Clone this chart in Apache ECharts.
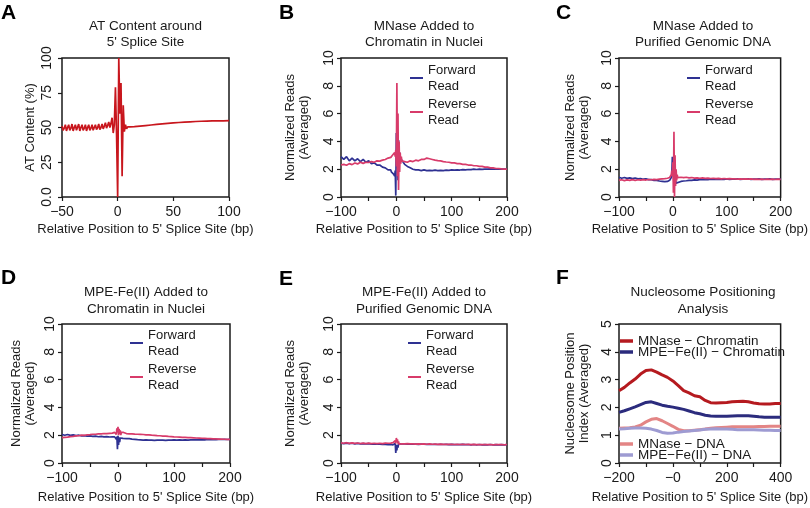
<!DOCTYPE html>
<html><head><meta charset="utf-8">
<script src="https://cdn.jsdelivr.net/npm/echarts@6/dist/echarts.min.js"></script>
<style>html,body{margin:0;padding:0;background:#fff}#c{width:810px;height:508px}</style>
</head><body><div id="c"></div>
<script>
// ---------- DATA ----------
// Panel A: AT content around 5' splice site
const posA = [-50,-49,-48,-47,-46,-45,-44,-43,-42,-41,-40,-39,-38,-37,-36,-35,-34,-33,-32,-31,
  -30,-29,-28,-27,-26,-25,-24,-23,-22,-21,-20,-19,-18,-17,-16,-15,-14,-13,-12,-11,
  -10,-9,-8,-7,-6,-5,-4,-3,-2,-1,0,1,2,3,4,5,6,7,8,9,10,11,12,
  15,20,25,30,35,40,45,50,55,60,65,70,75,80,85,90,95,100];
const atContent = [51,48,49.5,52,47.5,50,52,48,49.5,52.5,
  47.5,50,52,48,49,52.5,47.5,50,52,48,
  49.5,52,47.5,50,52,48,49.5,52,48,50,
  52,48.5,50,52.5,48.5,50,52.5,49,51,53.5,
  49.5,51.5,54,50,53,57,46,52,79,45,
  0,100,60,82,15,66,47,52,49,50.5,
  50,50.5,50.3,
  50.6,51,51.4,51.8,52.2,52.6,53,53.3,53.6,53.9,54.1,54.3,54.5,54.6,54.7,54.8,54.8,54.9];

// Panels B-E: shared positions (bp)
const posReads = [-100,-95,-90,-85,-80,-75,-70,-65,-60,-55,-50,-45,-40,-35,-30,-25,-20,-15,
  -10,-9,-8,-7,-6,-5,-4,-3,-2,-1,0,1,2,3,4,5,6,7,8,9,10,
  15,20,25,30,35,40,45,50,55,60,65,70,75,80,85,90,95,100,105,110,115,120,125,130,135,140,
  145,150,155,160,165,170,175,180,185,190,195,200];

// B: MNase - chromatin in nuclei
const fwdB = [2.9,2.7,2.9,2.6,2.8,2.6,2.75,2.55,2.7,2.5,2.6,2.4,2.45,2.3,2.3,2.15,2.1,1.95,
  1.95,1.8,1.9,1.75,1.8,1.65,1.7,1.5,1.9,0.1,4.6,2.5,3.9,1.2,4.1,2.6,3.2,2.9,2.8,2.7,2.6,
  2.35,2.2,2.1,2.0,1.95,1.95,1.9,1.95,1.9,1.92,1.9,1.93,1.9,1.92,1.9,1.93,1.92,1.95,1.93,1.95,
  1.94,1.97,1.95,1.98,1.97,2.0,1.98,2.0,1.99,2.01,2.0,2.02,2.0,2.02,2.0,2.01,2.0,2.0];
const revB = [2.3,2.35,2.28,2.4,2.33,2.45,2.38,2.5,2.42,2.5,2.48,2.55,2.5,2.6,2.58,2.65,2.7,2.8,
  2.85,2.95,2.9,3.0,3.05,3.1,3.0,3.2,2.9,3.4,2.2,8.2,1.5,6.0,0.5,4.0,1.8,3.2,2.4,2.9,2.6,
  2.55,2.5,2.6,2.55,2.65,2.6,2.7,2.7,2.8,2.75,2.7,2.65,2.62,2.6,2.55,2.52,2.5,2.45,2.45,2.4,
  2.4,2.35,2.35,2.3,2.3,2.25,2.25,2.2,2.2,2.15,2.15,2.1,2.1,2.05,2.05,2.02,2.0,2.0];

// C: MNase - purified genomic DNA
const fwdC = [1.42,1.35,1.4,1.34,1.38,1.32,1.36,1.3,1.33,1.28,1.3,1.25,1.25,1.2,1.2,1.15,1.13,1.1,
  1.12,1.08,1.15,1.1,1.2,1.16,1.3,1.4,1.6,2.9,1.5,2.2,0.8,1.6,0.9,1.2,1.0,1.1,1.05,1.1,1.1,
  1.12,1.15,1.17,1.2,1.2,1.23,1.22,1.25,1.24,1.27,1.25,1.28,1.26,1.28,1.27,1.29,1.27,1.3,1.27,1.29,
  1.28,1.3,1.27,1.29,1.28,1.3,1.27,1.29,1.28,1.3,1.27,1.29,1.28,1.3,1.27,1.29,1.28,1.28];
const revC = [1.2,1.24,1.18,1.23,1.2,1.25,1.19,1.24,1.21,1.25,1.22,1.26,1.24,1.27,1.25,1.28,1.3,1.32,
  1.35,1.33,1.38,1.36,1.4,1.42,1.45,1.6,1.9,1.5,2.5,0.3,4.7,0.0,3.0,0.8,2.0,1.2,1.6,1.4,1.45,
  1.42,1.4,1.42,1.38,1.4,1.36,1.38,1.35,1.37,1.34,1.36,1.33,1.35,1.32,1.34,1.31,1.33,1.3,1.32,1.3,
  1.31,1.29,1.31,1.28,1.3,1.28,1.3,1.27,1.29,1.27,1.29,1.26,1.28,1.27,1.28,1.26,1.28,1.27];

// D: MPE-Fe(II) - chromatin in nuclei
const fwdD = [2.05,2.0,2.05,1.99,2.02,1.97,2.0,1.95,1.97,1.93,1.95,1.91,1.93,1.89,1.91,1.88,1.9,1.87,
  1.88,1.85,1.9,1.84,1.88,1.8,1.9,1.7,1.9,1.0,1.95,1.3,1.85,1.5,1.8,1.7,1.82,1.78,1.8,1.77,1.8,
  1.76,1.75,1.72,1.7,1.68,1.67,1.65,1.66,1.64,1.65,1.63,1.65,1.64,1.65,1.63,1.65,1.64,1.66,1.64,1.66,
  1.65,1.67,1.65,1.67,1.66,1.68,1.66,1.68,1.67,1.69,1.68,1.7,1.68,1.7,1.69,1.7,1.69,1.7];
const revD = [1.82,1.85,1.86,1.9,1.91,1.95,1.96,2.0,1.99,2.03,2.04,2.07,2.07,2.1,2.09,2.12,2.11,2.13,
  2.15,2.1,2.18,2.1,2.2,2.1,2.3,2.05,2.5,2.2,2.6,2.0,2.45,2.1,2.35,2.0,2.2,2.1,2.25,2.12,2.2,
  2.12,2.1,2.1,2.08,2.07,2.06,2.05,2.03,2.02,2.0,1.99,1.97,1.96,1.94,1.93,1.91,1.9,1.88,1.87,1.86,
  1.85,1.84,1.83,1.82,1.81,1.8,1.79,1.78,1.77,1.76,1.75,1.74,1.73,1.72,1.72,1.71,1.7,1.7];

// E: MPE-Fe(II) - purified genomic DNA
const fwdE = [1.42,1.4,1.43,1.39,1.42,1.38,1.41,1.38,1.4,1.37,1.39,1.36,1.38,1.35,1.36,1.33,1.34,1.32,
  1.33,1.3,1.32,1.29,1.31,1.28,1.3,1.25,1.4,0.72,1.3,0.9,1.3,1.1,1.35,1.3,1.36,1.34,1.37,1.36,1.38,
  1.37,1.36,1.37,1.35,1.36,1.34,1.36,1.35,1.34,1.35,1.33,1.35,1.33,1.34,1.33,1.34,1.32,1.34,1.32,1.33,
  1.32,1.34,1.32,1.33,1.31,1.33,1.31,1.33,1.31,1.32,1.31,1.33,1.31,1.32,1.31,1.32,1.31,1.32];
const revE = [1.45,1.42,1.46,1.41,1.45,1.41,1.44,1.4,1.43,1.4,1.43,1.39,1.42,1.4,1.42,1.4,1.43,1.42,
  1.43,1.41,1.44,1.42,1.46,1.45,1.5,1.48,1.6,1.4,1.8,1.5,1.7,1.4,1.55,1.35,1.45,1.38,1.42,1.38,1.4,
  1.38,1.39,1.37,1.38,1.36,1.38,1.36,1.37,1.35,1.37,1.35,1.36,1.34,1.36,1.34,1.35,1.34,1.35,1.33,1.35,
  1.33,1.34,1.33,1.34,1.32,1.34,1.32,1.33,1.32,1.33,1.32,1.33,1.31,1.33,1.32,1.33,1.31,1.33];

// F: nucleosome positioning index
const posF = [-200,-180,-160,-140,-120,-100,-80,-60,-40,-20,0,20,40,60,80,100,120,140,160,180,
  200,220,240,260,280,300,320,340,360,380,400];
const mnaseChromatin = [2.6,2.72,2.88,3.02,3.2,3.33,3.35,3.27,3.17,3.08,2.95,2.78,2.6,2.52,2.42,2.38,2.25,2.17,2.16,2.17,
  2.18,2.2,2.21,2.22,2.2,2.16,2.13,2.12,2.12,2.14,2.14];
const mpeChromatin = [1.82,1.88,1.95,2.02,2.1,2.18,2.2,2.14,2.08,2.04,2.01,1.97,1.93,1.87,1.81,1.77,1.72,1.69,1.68,1.68,
  1.68,1.69,1.7,1.7,1.7,1.68,1.66,1.65,1.65,1.65,1.65];
const mnaseDNA = [1.25,1.26,1.27,1.3,1.36,1.48,1.57,1.6,1.52,1.42,1.32,1.21,1.16,1.16,1.18,1.2,1.22,1.25,1.27,1.28,
  1.29,1.3,1.3,1.3,1.3,1.3,1.31,1.31,1.32,1.32,1.32];
const mpeDNA = [1.22,1.23,1.25,1.26,1.26,1.25,1.22,1.17,1.1,1.07,1.08,1.11,1.13,1.15,1.17,1.19,1.21,1.22,1.23,1.22,
  1.22,1.21,1.2,1.2,1.2,1.2,1.19,1.18,1.18,1.17,1.17];

// Texts
const panelLetters = ['A','B','C','D','E','F'];
const panelTitles = ['AT Content around\n5\' Splice Site', 'MNase Added to\nChromatin in Nuclei',
  'MNase Added to\nPurified Genomic DNA', 'MPE-Fe(II) Added to\nChromatin in Nuclei',
  'MPE-Fe(II) Added to\nPurified Genomic DNA', 'Nucleosome Positioning\nAnalysis'];
const xName = 'Relative Position to 5\' Splice Site (bp)';
const yNames = ['AT Content (%)', 'Normalized Reads\n(Averaged)', 'Normalized Reads\n(Averaged)',
  'Normalized Reads\n(Averaged)', 'Normalized Reads\n(Averaged)', 'Nucleosome Position\nIndex (Averaged)'];
const readNames = ['Forward\nRead', 'Reverse\nRead'];
const fNames = ['MNase \u2212 Chromatin', 'MPE\u2212Fe(II) \u2212 Chromatin', 'MNase \u2212 DNA', 'MPE\u2212Fe(II) \u2212 DNA'];

// ---------- CHART ----------
const FONT = '"Liberation Sans", Arial, Helvetica, sans-serif';
const INK = '#1a1a1a';
const C_FWD = '#2e3192', C_REV = '#d83b6a', C_AT = '#c8161d';
const C_F = ['#b51a1f', '#2b2b7d', '#e38585', '#9e9bd2'];

const grids = [
  {left:62, top:58, width:167, height:139},
  {left:341, top:58, width:166, height:139},
  {left:619, top:58, width:168, height:139},
  {left:62, top:324, width:168, height:139},
  {left:341, top:324, width:166, height:139},
  {left:619, top:324, width:168, height:139}
];
const zip = (xs, ys) => xs.map((x, i) => [x, ys[i]]);
const mn = v => String(v).replace('-', '\u2212');

function xAx(i, min, max, interval, fmt, margin, gap) {
  return {type:'value', gridIndex:i, min, max, interval,
    axisLine:{show:false, onZero:false}, splitLine:{show:false},
    axisTick:{show:true, length:4, lineStyle:{color:INK, width:1.2}},
    axisLabel:{margin, fontSize:14, color:INK, fontFamily:FONT, formatter:fmt, showMinLabel:true, showMaxLabel:true},
    name:xName, nameLocation:'middle', nameGap:gap,
    nameTextStyle:{fontSize:13, color:INK, fontFamily:FONT}};
}
function yAx(i, max, interval, fmt, margin, gap) {
  return {type:'value', gridIndex:i, min:0, max, interval,
    axisLine:{show:false, onZero:false}, splitLine:{show:false},
    axisTick:{show:true, length:4, lineStyle:{color:INK, width:1.2}},
    axisLabel:{rotate:90, margin, fontSize:14, color:INK, fontFamily:FONT, formatter:fmt, showMinLabel:true, showMaxLabel:true},
    name:yNames[i], nameLocation:'middle', nameGap:gap,
    nameTextStyle:{fontSize:13, lineHeight:13.5, color:INK, fontFamily:FONT}};
}
const fmt100 = v => (v % 100 === 0 ? mn(v) : '');
const fmtA = v => mn(v);
const fmtF = v => (v % 200 === 0 ? (v === 0 ? '\u22120' : mn(v)) : '');

const xAxes = [
  xAx(0, -50, 100, 50, fmtA, 8, 26),
  xAx(1, -100, 200, 50, fmt100, 8, 26),
  xAx(2, -100, 200, 50, fmt100, 8, 26),
  xAx(3, -100, 200, 50, fmt100, 8, 28),
  xAx(4, -100, 200, 50, fmt100, 8, 28),
  xAx(5, -200, 400, 100, fmtF, 8, 28)
];
const yAxes = [
  yAx(0, 100, 25, v => (v === 0 ? '0.0' : String(v)), 8, 25),
  yAx(1, 10, 2, v => String(v), 5, 30),
  yAx(2, 10, 2, v => String(v), 5, 28),
  yAx(3, 10, 2, v => String(v), 5, 25),
  yAx(4, 10, 2, v => String(v), 5, 30),
  yAx(5, 5, 1, v => String(v), 5, 28)
];

function line(i, name, pos, vals, color, width) {
  return {type:'line', name, xAxisIndex:i, yAxisIndex:i, data:zip(pos, vals),
    symbol:'none', showSymbol:false, clip:true,
    lineStyle:{color, width}, itemStyle:{color}, emphasis:{disabled:true}};
}
const series = [
  line(0, 'AT Content', posA, atContent, C_AT, 1.7),
  line(1, readNames[0], posReads, fwdB, C_FWD, 1.7),
  line(1, readNames[1], posReads, revB, C_REV, 1.7),
  line(2, readNames[0], posReads, fwdC, C_FWD, 1.7),
  line(2, readNames[1], posReads, revC, C_REV, 1.7),
  line(3, readNames[0], posReads, fwdD, C_FWD, 1.7),
  line(3, readNames[1], posReads, revD, C_REV, 1.7),
  line(4, readNames[0], posReads, fwdE, C_FWD, 1.7),
  line(4, readNames[1], posReads, revE, C_REV, 1.7),
  line(5, fNames[2], posF, mnaseDNA, C_F[2], 3),
  line(5, fNames[3], posF, mpeDNA, C_F[3], 3),
  line(5, fNames[0], posF, mnaseChromatin, C_F[0], 3),
  line(5, fNames[1], posF, mpeChromatin, C_F[1], 3)
];

function readLegend(left, top) {
  return {data:readNames, left, top, orient:'vertical', icon:'rect', itemWidth:13, itemHeight:2,
    itemGap:2, padding:0, selectedMode:false,
    textStyle:{fontSize:13, lineHeight:16, color:INK, fontFamily:FONT}};
}
function fLegend(names, top) {
  return {data:names, left:620, top, orient:'vertical', icon:'rect', itemWidth:13, itemHeight:3.5,
    itemGap:-3, padding:0, selectedMode:false,
    textStyle:{fontSize:13.5, lineHeight:14, color:INK, fontFamily:FONT}};
}
const legends = [
  readLegend(410, 62), readLegend(687, 62), readLegend(130, 327), readLegend(408, 327),
  fLegend([fNames[0], fNames[1]], 334), fLegend([fNames[2], fNames[3]], 437)
];

const titles = [];
grids.forEach((g, i) => {
  const topRow = i < 3;
  titles.push({text:panelTitles[i], left:g.left + g.width / 2, top: topRow ? 17.8 : 284.5,
    textAlign:'center', padding:0,
    textStyle:{fontSize:13.5, lineHeight:16.5, fontWeight:'normal', color:INK, fontFamily:FONT}});
});
const letterPos = [[1, 3], [279, 3], [556, 3], [1, 268], [279, 269], [556, 268]];
panelLetters.forEach((L, i) => {
  titles.push({text:L, left:letterPos[i][0], top:letterPos[i][1], padding:0,
    textStyle:{fontSize:21, fontWeight:'bold', color:'#000', fontFamily:FONT}});
});

const grid = grids.map(g => Object.assign({show:true, borderColor:INK, borderWidth:1.5,
  backgroundColor:'transparent', containLabel:false}, g));

const chart = echarts.init(document.getElementById('c'), null, {renderer:'canvas'});
chart.setOption({
  animation:false, backgroundColor:'#ffffff',
  title:titles, grid, xAxis:xAxes, yAxis:yAxes, legend:legends, series
});
</script></body></html>
